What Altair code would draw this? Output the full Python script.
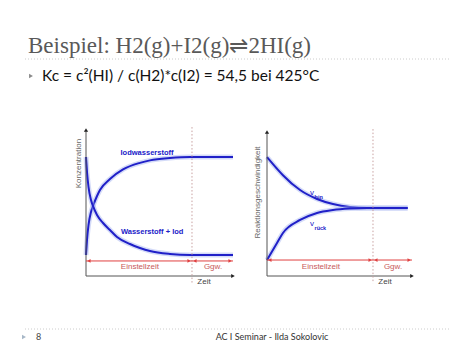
import altair as alt
import pandas as pd

# ---------------- data ----------------
# Left panel: Konzentration vs. Zeit
t_hi = [0, 0.068, 0.17, 0.34, 0.50, 0.75, 0.95, 1.63, 2.52, 3.67, 4.35, 5.71, 7.07, 10]
c_hi = [0.144, 0.247, 0.349, 0.438, 0.486, 0.548, 0.589, 0.664, 0.730, 0.775, 0.792, 0.808, 0.815, 0.815]
t_h2 = [0, 0.068, 0.17, 0.34, 0.50, 0.75, 1.16, 1.63, 2.11, 2.99, 3.67, 4.35, 5.71, 7.07, 10]
c_h2 = [0.815, 0.712, 0.610, 0.521, 0.473, 0.418, 0.363, 0.315, 0.267, 0.219, 0.192, 0.171, 0.151, 0.144, 0.144]
left_eq_t = 7.21          # Einstellzeit ends
left_arrow_c = 0.103      # level of red arrow

# Right panel: Reaktionsgeschwindigkeit vs. Zeit
t_hin = [0, 0.69, 1.10, 2.28, 3.45, 4.55, 5.72, 6.9, 9.7]
v_hin = [0.826, 0.745, 0.70, 0.597, 0.535, 0.50, 0.479, 0.472, 0.472]
t_rueck = [0, 0.69, 1.10, 2.28, 3.45, 4.55, 5.72, 6.9, 9.7]
v_rueck = [0.111, 0.229, 0.299, 0.389, 0.438, 0.458, 0.468, 0.472, 0.472]
right_eq_t = 7.31
right_arrow_c = 0.111

BLUE = "#2020c8"
GLOW = "#9fb0f0"
RED = "#e04040"
RED_TXT = "#c85a5a"
AX = "#555555"


def panel(xr, yr, curves, eq_t, arrow_c, t_end, labels, ylabel, ylabel_pos):
    xs = alt.Scale(domain=[0, 10], range=xr)
    ys = alt.Scale(domain=[0, 1], range=yr)
    X = lambda f: alt.X(f, type="quantitative", scale=xs, axis=None)
    Y = lambda f: alt.Y(f, type="quantitative", scale=ys, axis=None)
    X2 = lambda f: alt.X2(f)
    layers = []
    # curves with glow
    for name, (tt, cc) in curves.items():
        df = pd.DataFrame({"t": tt, "c": cc})
        layers.append(alt.Chart(df).mark_line(color=GLOW, strokeWidth=5, opacity=0.45,
                                              interpolate="monotone").encode(x=X("t"), y=Y("c")))
        layers.append(alt.Chart(df).mark_line(color=BLUE, strokeWidth=2,
                                              interpolate="monotone").encode(x=X("t"), y=Y("c")))
    # axes
    axes = pd.DataFrame({"t": [0, 0], "t2": [t_end, 0], "c": [0, 0], "c2": [0, 1.0]})
    layers.append(alt.Chart(axes).mark_rule(color=AX, strokeWidth=1).encode(
        x=X("t"), x2=X2("t2"), y=Y("c"), y2=alt.Y2("c2")))
    heads = pd.DataFrame({"t": [t_end, 0], "c": [0, 1.0], "s": ["triangle-right", "triangle-up"]})
    layers.append(alt.Chart(heads).mark_point(filled=True, color="#222222", size=18, opacity=1).encode(
        x=X("t"), y=Y("c"),
        shape=alt.Shape("s:N", scale=alt.Scale(domain=["triangle-right", "triangle-up"],
                                               range=["triangle-right", "triangle-up"]), legend=None)))
    # dotted equilibrium line
    dl = pd.DataFrame({"t": [eq_t], "c": [1.02], "c2": [-0.05]})
    layers.append(alt.Chart(dl).mark_rule(color="#c8a0a0", strokeWidth=1, strokeDash=[1.5, 2]).encode(
        x=X("t"), y=Y("c"), y2=alt.Y2("c2")))
    # red arrows
    ra = pd.DataFrame({"t": [0, eq_t], "t2": [eq_t, t_end], "c": [arrow_c, arrow_c]})
    layers.append(alt.Chart(ra).mark_rule(color=RED, strokeWidth=1).encode(
        x=X("t"), x2=X2("t2"), y=Y("c")))
    off = 0.2
    rh = pd.DataFrame({"t": [off, eq_t - off, eq_t + off, t_end - off],
                       "c": [arrow_c] * 4,
                       "s": ["triangle-left", "triangle-right", "triangle-left", "triangle-right"]})
    layers.append(alt.Chart(rh).mark_point(filled=True, color=RED, size=14, opacity=1).encode(
        x=X("t"), y=Y("c"),
        shape=alt.Shape("s:N", scale=alt.Scale(domain=["triangle-left", "triangle-right"],
                                               range=["triangle-left", "triangle-right"]), legend=None)))
    # labels
    for txt, tt, cc, col, fs, fw, al in labels:
        df = pd.DataFrame({"t": [tt], "c": [cc], "txt": [txt]})
        layers.append(alt.Chart(df).mark_text(font="Liberation Sans", fontSize=fs, fontWeight=fw,
                                              color=col, align=al, baseline="middle").encode(
            x=X("t"), y=Y("c"), text="txt:N"))
    df = pd.DataFrame({"t": [ylabel_pos[0]], "c": [ylabel_pos[1]], "txt": [ylabel]})
    layers.append(alt.Chart(df).mark_text(font="Liberation Sans", fontSize=8, color="#666666",
                                          angle=270, align="center", baseline="middle").encode(
        x=X("t"), y=Y("c"), text="txt:N"))
    return layers


left_labels = [
    ("Iodwasserstoff", 4.15, 0.84, BLUE, 7.5, "bold", "center"),
    ("Wasserstoff + Iod", 4.5, 0.30, BLUE, 7.5, "bold", "center"),
    ("Einstellzeit", 3.67, 0.065, RED_TXT, 8, "normal", "center"),
    ("Ggw.", 8.64, 0.065, RED_TXT, 8, "normal", "center"),
    ("Zeit", 8.03, -0.04, "#444444", 8, "normal", "center"),
]
right_labels = [
    ("v", 3.1, 0.575, BLUE, 8, "normal", "center"),
    ("hin", 3.28, 0.55, BLUE, 5.5, "bold", "left"),
    ("v", 3.1, 0.36, BLUE, 8, "normal", "center"),
    ("rück", 3.28, 0.335, BLUE, 5.5, "bold", "left"),
    ("Einstellzeit", 3.72, 0.0625, RED_TXT, 8, "normal", "center"),
    ("Ggw.", 8.69, 0.0625, RED_TXT, 8, "normal", "center"),
    ("Zeit", 8.14, -0.042, "#444444", 8, "normal", "center"),
]

layers = []
layers += panel([86, 233], [276, 130], {"hi": (t_hi, c_hi), "h2": (t_h2, c_h2)},
                left_eq_t, left_arrow_c, 10, left_labels, "Konzentration", (-0.5, 0.77))
layers += panel([267, 412], [276, 132], {"hin": (t_hin, v_hin), "rueck": (t_rueck, v_rueck)},
                right_eq_t, right_arrow_c, 10, right_labels, "Reaktionsgeschwindigkeit", (-0.62, 0.58))

# ---------------- slide header / footer ----------------
one = pd.DataFrame({"a": [0]})
title = "Beispiel: H2(g)+I2(g)⇌2HI(g)"
formula = "Kc = c²(HI) / c(H2)*c(I2) = 54,5 bei 425°C"
footer = "AC I Seminar - Ilda Sokolovic"

layers.append(alt.Chart(one).mark_text(text=title, font="Liberation Serif", fontSize=23, color="#595959",
                                       align="left", baseline="alphabetic").encode(
    x=alt.value(28), y=alt.value(53)))
layers.append(alt.Chart(one).mark_rule(color="#cccccc", strokeDash=[1, 2], strokeWidth=1).encode(
    x=alt.value(25), x2=alt.value(450), y=alt.value(59)))
layers.append(alt.Chart(one).mark_point(shape="triangle-right", filled=True, color="#8a8a8a",
                                        size=20, opacity=1).encode(x=alt.value(31), y=alt.value(76)))
layers.append(alt.Chart(one).mark_text(text=formula, font="Lato", fontSize=15.5, color="#111111",
                                       align="left", baseline="alphabetic").encode(
    x=alt.value(42), y=alt.value(81)))
layers.append(alt.Chart(one).mark_rule(color="#cccccc", strokeDash=[1, 2], strokeWidth=1).encode(
    x=alt.value(25), x2=alt.value(450), y=alt.value(329)))
layers.append(alt.Chart(one).mark_point(shape="triangle-right", filled=True, color="#a8b8c8",
                                        size=22, opacity=1).encode(x=alt.value(24), y=alt.value(337)))
layers.append(alt.Chart(one).mark_text(text="8", font="Lato", fontSize=9, color="#444444",
                                       align="left", baseline="middle").encode(
    x=alt.value(36), y=alt.value(337)))
layers.append(alt.Chart(one).mark_text(text=footer, font="Lato", fontSize=9, color="#333333",
                                       align="center", baseline="middle").encode(
    x=alt.value(272), y=alt.value(337)))

chart = alt.layer(*layers).resolve_scale(x="independent", y="independent", shape="independent").properties(
    width=474, height=355, autosize=alt.AutoSizeParams(type="none"), padding=0, background="white"
).configure_view(stroke=None)

chart.save("out.html", embed_options={"renderer": "svg", "actions": False})
